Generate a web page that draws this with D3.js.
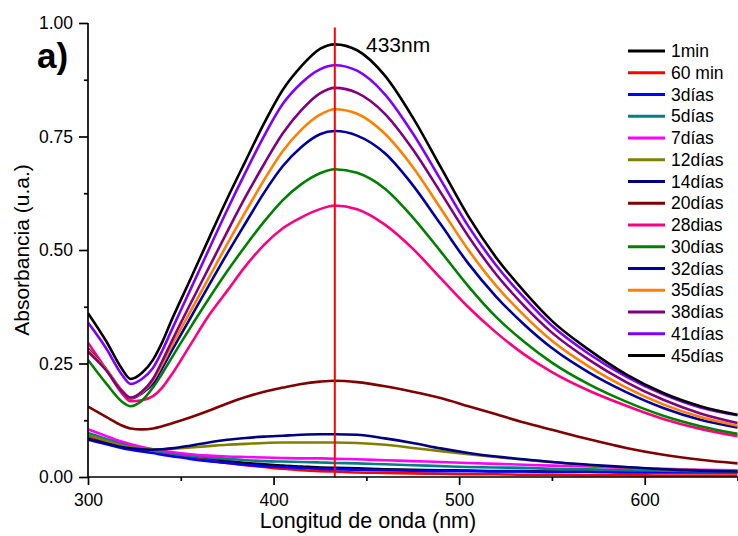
<!DOCTYPE html>
<html>
<head>
<meta charset="utf-8">
<script src="https://cdn.jsdelivr.net/npm/d3@7"></script>
<style>
  html, body { margin: 0; padding: 0; background: #fff; }
  svg { display: block; }
  text { font-family: Arial, "Liberation Sans", sans-serif; fill: #000; }
</style>
</head>
<body>
<svg id="chart" width="738" height="536"></svg>
<script>
// Wavelengths (nm) at which the spectra are sampled
const wavelengths = [300,310,318,323,329,335,340,345,355,365,375,385,395,405,415,425,433,445,460,475,490,505,520,535,550,570,590,610,630,650];

const seriesNames = ["1min","60 min","3días","5días","7días","12días","14días","20días","28dias","30días","32días","35días","38días","41días","45días"];
const seriesColors = ["#000000","#ff0000","#0000ff","#008080","#ff00ff","#808000","#000080","#800000","#ff0080","#008000","#0000a0","#ff8000","#800080","#8000ff","#000000"];

const abs1min   = [.089,.078,.070,.065,.060,.056,.053,.050,.045,.040,.035,.031,.028,.025,.023,.021,.020,.019,.017,.016,.015,.014,.013,.013,.012,.012,.011,.011,.011,.011];
const abs60min  = [.088,.077,.069,.064,.059,.055,.051,.048,.042,.036,.031,.026,.022,.018,.015,.013,.012,.010,.009,.008,.007,.006,.006,.005,.005,.004,.004,.003,.003,.003];
const abs3d     = [.082,.072,.064,.060,.056,.053,.049,.046,.040,.035,.031,.027,.024,.022,.020,.018,.017,.016,.015,.014,.013,.013,.012,.012,.011,.011,.010,.010,.010,.010];
const abs5d     = [.097,.084,.074,.068,.063,.058,.055,.052,.047,.043,.040,.037,.035,.034,.033,.032,.031,.030,.028,.026,.024,.022,.021,.020,.018,.017,.015,.014,.013,.012];
const abs7d     = [.105,.090,.078,.072,.066,.061,.058,.055,.050,.047,.045,.044,.043,.042,.041,.041,.040,.039,.037,.035,.033,.031,.029,.027,.025,.023,.020,.018,.016,.015];
const abs12d    = [.092,.080,.070,.066,.063,.061,.061,.062,.065,.068,.071,.073,.075,.076,.076,.076,.076,.075,.071,.064,.057,.050,.044,.038,.033,.026,.021,.017,.015,.013];
const abs14d    = [.084,.074,.066,.063,.061,.060,.061,.063,.069,.076,.082,.086,.089,.091,.093,.094,.094,.093,.085,.075,.063,.053,.045,.039,.033,.027,.022,.017,.014,.012];
const abs20d    = [.155,.132,.114,.107,.105,.107,.112,.118,.131,.146,.162,.176,.188,.197,.205,.210,.212,.209,.200,.188,.174,.156,.138,.120,.104,.083,.064,.049,.038,.030];
const abs28d    = [.296,.236,.186,.167,.169,.178,.197,.225,.290,.355,.410,.465,.512,.548,.572,.590,.598,.590,.556,.503,.438,.374,.318,.270,.231,.190,.157,.128,.106,.090];
const abs30d    = [.258,.205,.167,.156,.168,.197,.228,.262,.328,.392,.453,.510,.563,.610,.645,.669,.678,.670,.635,.572,.497,.420,.352,.298,.252,.204,.166,.135,.112,.095];
const abs32d    = [.283,.236,.192,.173,.184,.206,.240,.277,.349,.421,.492,.560,.627,.685,.727,.755,.762,.752,.713,.643,.557,.470,.397,.336,.284,.230,.187,.152,.126,.109];
const abs35d    = [.280,.236,.192,.174,.186,.212,.248,.288,.363,.438,.513,.585,.655,.718,.765,.798,.810,.800,.756,.683,.592,.500,.421,.356,.300,.243,.197,.160,.132,.113];
const abs38d    = [.276,.234,.190,.175,.188,.216,.255,.298,.380,.460,.540,.618,.690,.757,.808,.845,.857,.846,.800,.722,.627,.530,.446,.377,.318,.258,.209,.170,.140,.119];
const abs41d    = [.340,.282,.227,.205,.216,.240,.278,.323,.411,.500,.588,.672,.752,.822,.868,.898,.907,.895,.843,.757,.655,.552,.466,.395,.333,.271,.221,.182,.153,.136];
const abs45d    = [.361,.298,.240,.216,.229,.258,.297,.345,.434,.524,.613,.697,.780,.853,.905,.943,.953,.940,.884,.792,.683,.574,.483,.409,.344,.280,.226,.185,.156,.137];

const seriesValues = [abs1min,abs60min,abs3d,abs5d,abs7d,abs12d,abs14d,abs20d,abs28d,abs30d,abs32d,abs35d,abs38d,abs41d,abs45d];

const xTicks = [300,400,500,600];
const xMinorTicks = [350,450,550,650];
const yTicks = [0,0.25,0.5,0.75,1.0];
const yMinorTicks = [0.125,0.375,0.625,0.875];
const peakWavelength = 433;
const peakLabel = "433nm";
const panelLabel = "a)";
const xTitle = "Longitud de onda (nm)";
const yTitle = "Absorbancia (u.a.)";

const svg = d3.select("#chart");
const x = d3.scaleLinear().domain([300, 650]).range([88, 737.5]);
const y = d3.scaleLinear().domain([0, 1]).range([477, 23]);

svg.append("defs").append("clipPath").attr("id", "plotclip")
  .append("rect").attr("x", 88).attr("y", 0).attr("width", 650).attr("height", 477.5);

const line = d3.line()
  .x(d => x(d[0]))
  .y(d => y(d[1]))
  .curve(d3.curveMonotoneX);

const g = svg.append("g").attr("clip-path", "url(#plotclip)");
seriesValues.forEach((vals, i) => {
  g.append("path")
    .datum(wavelengths.map((w, j) => [w, vals[j]]))
    .attr("fill", "none")
    .attr("stroke", seriesColors[i])
    .attr("stroke-width", 2.6)
    .attr("stroke-linejoin", "round")
    .attr("d", line);
});

// vertical marker line
svg.append("line")
  .attr("x1", x(peakWavelength)).attr("x2", x(peakWavelength))
  .attr("y1", y(0.99)).attr("y2", y(0))
  .attr("stroke", "#ff0000").attr("stroke-width", 2);

svg.append("text").attr("x", 366).attr("y", 52)
  .attr("font-size", 21).text(peakLabel);

// Axes
const xAxis = d3.axisBottom(x).tickValues(xTicks).tickSize(8).tickPadding(9).tickFormat(d3.format("d"));
const xAxisMinor = d3.axisBottom(x).tickValues(xMinorTicks).tickSize(4).tickFormat("");
const yAxis = d3.axisLeft(y).tickValues(yTicks).tickSize(9).tickPadding(6).tickFormat(d3.format(".2f"));
const yAxisMinor = d3.axisLeft(y).tickValues(yMinorTicks).tickSize(4).tickFormat("");

function styleAxis(sel, fs) {
  sel.select(".domain").attr("stroke", "#000").attr("stroke-width", 1.7);
  sel.selectAll(".tick line").attr("stroke", "#000").attr("stroke-width", 1.7);
  sel.selectAll(".tick text").attr("font-size", fs).attr("font-family", "Arial, 'Liberation Sans', sans-serif").attr("fill", "#000");
}

const gx = svg.append("g").attr("transform", "translate(0,477)").call(xAxis);
gx.select(".domain").attr("d", `M${x(300)},0H${x(650)}`);
styleAxis(gx, 17.5);
const gxm = svg.append("g").attr("transform", "translate(0,477)").call(xAxisMinor);
gxm.select(".domain").remove();
styleAxis(gxm, 17.5);

const gy = svg.append("g").attr("transform", "translate(88,0)").call(yAxis);
gy.select(".domain").attr("d", `M0,${y(0)}V${y(1)}`);
styleAxis(gy, 17.5);
const gym = svg.append("g").attr("transform", "translate(88,0)").call(yAxisMinor);
gym.select(".domain").remove();
styleAxis(gym, 17.5);

// Titles
svg.append("text").attr("x", 368).attr("y", 528).attr("text-anchor", "middle")
  .attr("font-size", 21.5).text(xTitle);
svg.append("text").attr("transform", "translate(29,250) rotate(-90)").attr("text-anchor", "middle")
  .attr("font-size", 21).text(yTitle);
svg.append("text").attr("x", 37).attr("y", 68).attr("font-size", 35).attr("font-weight", "bold").text(panelLabel);

// Legend
const legend = svg.append("g");
seriesNames.forEach((name, i) => {
  const yy = 51 + i * 21.75;
  legend.append("line").attr("x1", 628).attr("x2", 665).attr("y1", yy).attr("y2", yy)
    .attr("stroke", seriesColors[i]).attr("stroke-width", 2.8);
  legend.append("text").attr("x", 671).attr("y", yy + 6).attr("font-size", 17.5).text(name);
});
</script>
</body>
</html>
